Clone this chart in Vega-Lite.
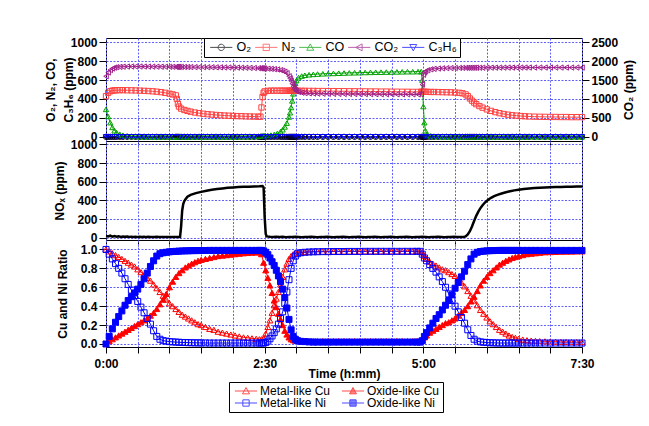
{
  "$schema": "https://vega.github.io/schema/vega-lite/v6.json",
  "background": "white",
  "padding": {"left": 43, "top": 35, "right": 5, "bottom": 5},
  "spacing": 0,
  "bounds": "flush",
  "config": {
    "view": {"stroke": "black", "strokeWidth": 1},
    "font": "Liberation Sans",
    "axis": {"labelFont": "Liberation Sans", "labelFontWeight": "bold", "labelFontSize": 12, "labelColor": "black", "titleFont": "Liberation Sans", "titleFontWeight": "bold", "titleFontSize": 12, "titleColor": "black", "tickColor": "black", "domain": false, "gridColor": "#6060ff", "gridDash": [2, 1.5], "gridWidth": 1, "tickSize": 7, "labelPadding": 2},
    "legend": {"labelFont": "Liberation Sans", "labelFontSize": 12, "labelColor": "black"}
  },
  "datasets": {
    "gas": [
      {"t":0,"O2":0,"N2":430,"CO":290,"C3H6":0,"CO2":1600},
      {"t":2,"O2":0,"N2":465,"CO":215,"C3H6":0,"CO2":1700},
      {"t":4,"O2":0,"N2":482,"CO":150,"C3H6":0,"CO2":1765},
      {"t":6,"O2":0,"N2":488,"CO":100,"C3H6":0,"CO2":1805},
      {"t":8,"O2":0,"N2":491,"CO":65,"C3H6":0,"CO2":1828},
      {"t":10,"O2":0,"N2":492,"CO":45,"C3H6":0,"CO2":1840},
      {"t":13,"O2":0,"N2":493,"CO":28,"C3H6":0,"CO2":1848},
      {"t":16,"O2":0,"N2":493,"CO":17,"C3H6":0,"CO2":1853},
      {"t":20,"O2":0,"N2":492,"CO":9,"C3H6":0,"CO2":1856},
      {"t":24,"O2":0,"N2":491,"CO":5,"C3H6":0,"CO2":1858},
      {"t":28,"O2":0,"N2":490,"CO":3,"C3H6":0,"CO2":1858},
      {"t":32,"O2":0,"N2":488,"CO":2,"C3H6":0,"CO2":1857},
      {"t":36,"O2":0,"N2":486,"CO":1,"C3H6":0,"CO2":1856},
      {"t":40,"O2":0,"N2":484,"CO":0,"C3H6":0,"CO2":1855},
      {"t":44,"O2":0,"N2":481,"CO":0,"C3H6":0,"CO2":1854},
      {"t":48,"O2":0,"N2":477,"CO":0,"C3H6":0,"CO2":1853},
      {"t":52,"O2":0,"N2":472,"CO":0,"C3H6":0,"CO2":1852},
      {"t":56,"O2":0,"N2":465,"CO":0,"C3H6":0,"CO2":1851},
      {"t":60,"O2":0,"N2":456,"CO":0,"C3H6":0,"CO2":1850},
      {"t":63,"O2":0,"N2":448,"CO":0,"C3H6":0,"CO2":1849},
      {"t":66,"O2":0,"N2":438,"CO":0,"C3H6":0,"CO2":1848},
      {"t":67,"O2":0,"N2":400,"CO":0,"C3H6":0,"CO2":1848},
      {"t":68,"O2":0,"N2":350,"CO":0,"C3H6":0,"CO2":1847},
      {"t":69,"O2":0,"N2":320,"CO":0,"C3H6":0,"CO2":1847},
      {"t":71,"O2":0,"N2":298,"CO":0,"C3H6":0,"CO2":1846},
      {"t":74,"O2":0,"N2":284,"CO":0,"C3H6":0,"CO2":1845},
      {"t":77,"O2":0,"N2":274,"CO":0,"C3H6":0,"CO2":1844},
      {"t":80,"O2":0,"N2":266,"CO":0,"C3H6":0,"CO2":1843},
      {"t":84,"O2":0,"N2":257,"CO":0,"C3H6":0,"CO2":1842},
      {"t":88,"O2":0,"N2":250,"CO":0,"C3H6":0,"CO2":1841},
      {"t":92,"O2":0,"N2":244,"CO":0,"C3H6":0,"CO2":1840},
      {"t":96,"O2":0,"N2":239,"CO":0,"C3H6":0,"CO2":1839},
      {"t":100,"O2":0,"N2":235,"CO":0,"C3H6":0,"CO2":1838},
      {"t":104,"O2":0,"N2":231,"CO":0,"C3H6":0,"CO2":1836},
      {"t":108,"O2":0,"N2":228,"CO":0,"C3H6":0,"CO2":1835},
      {"t":112,"O2":0,"N2":225,"CO":0,"C3H6":0,"CO2":1833},
      {"t":116,"O2":0,"N2":223,"CO":0,"C3H6":0,"CO2":1832},
      {"t":120,"O2":0,"N2":221,"CO":0,"C3H6":0,"CO2":1830},
      {"t":124,"O2":0,"N2":219,"CO":0,"C3H6":0,"CO2":1828},
      {"t":128,"O2":0,"N2":218,"CO":1,"C3H6":0,"CO2":1826},
      {"t":132,"O2":0,"N2":216,"CO":1,"C3H6":0,"CO2":1824},
      {"t":136,"O2":0,"N2":215,"CO":2,"C3H6":0,"CO2":1821},
      {"t":140,"O2":0,"N2":214,"CO":3,"C3H6":0,"CO2":1818},
      {"t":144,"O2":0,"N2":213,"CO":5,"C3H6":0,"CO2":1814},
      {"t":146,"O2":0,"N2":213,"CO":6,"C3H6":0,"CO2":1812},
      {"t":147,"O2":0,"N2":310,"CO":7,"C3H6":0,"CO2":1810},
      {"t":148,"O2":0,"N2":420,"CO":8,"C3H6":0,"CO2":1808},
      {"t":149,"O2":0,"N2":465,"CO":9,"C3H6":0,"CO2":1806},
      {"t":150,"O2":0,"N2":480,"CO":10,"C3H6":0,"CO2":1804},
      {"t":153,"O2":0,"N2":486,"CO":13,"C3H6":0,"CO2":1800},
      {"t":156,"O2":0,"N2":488,"CO":18,"C3H6":0,"CO2":1795},
      {"t":159,"O2":0,"N2":488,"CO":25,"C3H6":0,"CO2":1788},
      {"t":162,"O2":0,"N2":488,"CO":36,"C3H6":0,"CO2":1778},
      {"t":165,"O2":0,"N2":488,"CO":55,"C3H6":0,"CO2":1762},
      {"t":167,"O2":0,"N2":487,"CO":75,"C3H6":0,"CO2":1745},
      {"t":169,"O2":0,"N2":487,"CO":105,"C3H6":0,"CO2":1720},
      {"t":171,"O2":0,"N2":487,"CO":145,"C3H6":0,"CO2":1680},
      {"t":173,"O2":0,"N2":487,"CO":210,"C3H6":0,"CO2":1600},
      {"t":174,"O2":0,"N2":487,"CO":255,"C3H6":0,"CO2":1545},
      {"t":175,"O2":0,"N2":487,"CO":310,"C3H6":0,"CO2":1480},
      {"t":176,"O2":0,"N2":487,"CO":380,"C3H6":0,"CO2":1405},
      {"t":177,"O2":0,"N2":487,"CO":455,"C3H6":0,"CO2":1335},
      {"t":178,"O2":0,"N2":487,"CO":520,"C3H6":0,"CO2":1275},
      {"t":179,"O2":0,"N2":487,"CO":565,"C3H6":0,"CO2":1235},
      {"t":180,"O2":0,"N2":487,"CO":595,"C3H6":0,"CO2":1205},
      {"t":182,"O2":0,"N2":486,"CO":625,"C3H6":0,"CO2":1182},
      {"t":185,"O2":0,"N2":486,"CO":642,"C3H6":0,"CO2":1165},
      {"t":188,"O2":0,"N2":486,"CO":650,"C3H6":0,"CO2":1155},
      {"t":192,"O2":0,"N2":485,"CO":656,"C3H6":0,"CO2":1148},
      {"t":196,"O2":0,"N2":485,"CO":660,"C3H6":0,"CO2":1143},
      {"t":200,"O2":0,"N2":484,"CO":663,"C3H6":0,"CO2":1140},
      {"t":205,"O2":0,"N2":484,"CO":666,"C3H6":0,"CO2":1138},
      {"t":210,"O2":0,"N2":483,"CO":668,"C3H6":0,"CO2":1136},
      {"t":215,"O2":0,"N2":483,"CO":670,"C3H6":0,"CO2":1134},
      {"t":220,"O2":0,"N2":482,"CO":672,"C3H6":0,"CO2":1133},
      {"t":225,"O2":0,"N2":482,"CO":674,"C3H6":0,"CO2":1132},
      {"t":230,"O2":0,"N2":481,"CO":676,"C3H6":0,"CO2":1131},
      {"t":235,"O2":0,"N2":481,"CO":677,"C3H6":0,"CO2":1130},
      {"t":240,"O2":0,"N2":480,"CO":678,"C3H6":0,"CO2":1129},
      {"t":245,"O2":0,"N2":480,"CO":680,"C3H6":0,"CO2":1128},
      {"t":250,"O2":0,"N2":479,"CO":681,"C3H6":0,"CO2":1127},
      {"t":255,"O2":0,"N2":479,"CO":682,"C3H6":0,"CO2":1126},
      {"t":260,"O2":0,"N2":478,"CO":683,"C3H6":0,"CO2":1125},
      {"t":265,"O2":0,"N2":478,"CO":684,"C3H6":0,"CO2":1124},
      {"t":270,"O2":0,"N2":477,"CO":685,"C3H6":0,"CO2":1124},
      {"t":275,"O2":0,"N2":477,"CO":686,"C3H6":0,"CO2":1123},
      {"t":280,"O2":0,"N2":476,"CO":687,"C3H6":0,"CO2":1122},
      {"t":285,"O2":0,"N2":476,"CO":688,"C3H6":0,"CO2":1122},
      {"t":290,"O2":0,"N2":475,"CO":688,"C3H6":0,"CO2":1121},
      {"t":295,"O2":0,"N2":475,"CO":689,"C3H6":0,"CO2":1120},
      {"t":298,"O2":0,"N2":475,"CO":689,"C3H6":0,"CO2":1120},
      {"t":299,"O2":0,"N2":475,"CO":600,"C3H6":0,"CO2":1380},
      {"t":300,"O2":0,"N2":475,"CO":320,"C3H6":0,"CO2":1640},
      {"t":301,"O2":0,"N2":475,"CO":150,"C3H6":0,"CO2":1700},
      {"t":302,"O2":0,"N2":475,"CO":65,"C3H6":0,"CO2":1732},
      {"t":304,"O2":0,"N2":475,"CO":22,"C3H6":0,"CO2":1760},
      {"t":307,"O2":0,"N2":474,"CO":9,"C3H6":0,"CO2":1782},
      {"t":310,"O2":0,"N2":474,"CO":4,"C3H6":0,"CO2":1795},
      {"t":314,"O2":0,"N2":473,"CO":2,"C3H6":0,"CO2":1804},
      {"t":318,"O2":0,"N2":472,"CO":1,"C3H6":0,"CO2":1810},
      {"t":322,"O2":0,"N2":471,"CO":0,"C3H6":0,"CO2":1814},
      {"t":326,"O2":0,"N2":470,"CO":0,"C3H6":0,"CO2":1817},
      {"t":330,"O2":0,"N2":468,"CO":0,"C3H6":0,"CO2":1819},
      {"t":334,"O2":0,"N2":465,"CO":0,"C3H6":0,"CO2":1821},
      {"t":337,"O2":0,"N2":460,"CO":0,"C3H6":0,"CO2":1822},
      {"t":340,"O2":0,"N2":448,"CO":0,"C3H6":0,"CO2":1822},
      {"t":342,"O2":0,"N2":430,"CO":0,"C3H6":0,"CO2":1823},
      {"t":344,"O2":0,"N2":405,"CO":0,"C3H6":0,"CO2":1823},
      {"t":346,"O2":0,"N2":382,"CO":0,"C3H6":0,"CO2":1824},
      {"t":348,"O2":0,"N2":362,"CO":0,"C3H6":0,"CO2":1824},
      {"t":350,"O2":0,"N2":345,"CO":0,"C3H6":0,"CO2":1825},
      {"t":353,"O2":0,"N2":325,"CO":0,"C3H6":0,"CO2":1825},
      {"t":356,"O2":0,"N2":308,"CO":0,"C3H6":0,"CO2":1826},
      {"t":360,"O2":0,"N2":290,"CO":0,"C3H6":0,"CO2":1826},
      {"t":364,"O2":0,"N2":274,"CO":0,"C3H6":0,"CO2":1827},
      {"t":368,"O2":0,"N2":261,"CO":0,"C3H6":0,"CO2":1827},
      {"t":372,"O2":0,"N2":250,"CO":0,"C3H6":0,"CO2":1828},
      {"t":376,"O2":0,"N2":241,"CO":0,"C3H6":0,"CO2":1828},
      {"t":380,"O2":0,"N2":234,"CO":0,"C3H6":0,"CO2":1829},
      {"t":384,"O2":0,"N2":228,"CO":0,"C3H6":0,"CO2":1829},
      {"t":388,"O2":0,"N2":224,"CO":0,"C3H6":0,"CO2":1830},
      {"t":392,"O2":0,"N2":220,"CO":0,"C3H6":0,"CO2":1830},
      {"t":396,"O2":0,"N2":217,"CO":0,"C3H6":0,"CO2":1830},
      {"t":400,"O2":0,"N2":215,"CO":0,"C3H6":0,"CO2":1830},
      {"t":405,"O2":0,"N2":213,"CO":0,"C3H6":0,"CO2":1830},
      {"t":410,"O2":0,"N2":212,"CO":0,"C3H6":0,"CO2":1830},
      {"t":415,"O2":0,"N2":211,"CO":0,"C3H6":0,"CO2":1830},
      {"t":420,"O2":0,"N2":210,"CO":0,"C3H6":0,"CO2":1830},
      {"t":425,"O2":0,"N2":210,"CO":0,"C3H6":0,"CO2":1830},
      {"t":430,"O2":0,"N2":209,"CO":0,"C3H6":0,"CO2":1830},
      {"t":435,"O2":0,"N2":209,"CO":0,"C3H6":0,"CO2":1830},
      {"t":440,"O2":0,"N2":208,"CO":0,"C3H6":0,"CO2":1830},
      {"t":445,"O2":0,"N2":208,"CO":0,"C3H6":0,"CO2":1830},
      {"t":450,"O2":0,"N2":208,"CO":0,"C3H6":0,"CO2":1830}
    ],
    "nox": [
      {"t":0,"n":18},{"t":2,"n":14},{"t":4,"n":22},{"t":6,"n":12},{"t":8,"n":19},{"t":10,"n":11},{"t":12,"n":16},{"t":14,"n":9},{"t":16,"n":14},{"t":18,"n":10},
      {"t":20,"n":13},{"t":22,"n":8},{"t":24,"n":12},{"t":26,"n":9},{"t":28,"n":11},{"t":30,"n":7},{"t":32,"n":10},{"t":34,"n":8},{"t":36,"n":11},{"t":38,"n":7},
      {"t":40,"n":10},{"t":42,"n":8},{"t":44,"n":9},{"t":46,"n":7},{"t":48,"n":10},{"t":50,"n":8},{"t":52,"n":9},{"t":54,"n":7},{"t":56,"n":9},{"t":58,"n":8},
      {"t":60,"n":9},{"t":62,"n":7},{"t":64,"n":9},{"t":66,"n":8},{"t":68,"n":9},{"t":70,"n":9},{"t":71,"n":120},{"t":72,"n":290},{"t":73,"n":360},{"t":74,"n":392},
      {"t":75,"n":410},{"t":77,"n":440},{"t":80,"n":460},{"t":85,"n":478},{"t":90,"n":492},{"t":95,"n":504},{"t":100,"n":514},{"t":105,"n":522},{"t":110,"n":529},{"t":115,"n":535},
      {"t":120,"n":539},{"t":125,"n":543},{"t":130,"n":546},{"t":135,"n":548},{"t":140,"n":550},{"t":145,"n":552},{"t":148,"n":554},{"t":149,"n":540},{"t":150,"n":220},{"t":151,"n":40},
      {"t":152,"n":14},{"t":155,"n":10},{"t":158,"n":7},{"t":161,"n":11},{"t":164,"n":8},{"t":167,"n":10},{"t":170,"n":6},{"t":173,"n":9},{"t":176,"n":7},{"t":179,"n":10},
      {"t":182,"n":8},{"t":185,"n":6},{"t":188,"n":9},{"t":191,"n":7},{"t":194,"n":10},{"t":197,"n":8},{"t":200,"n":6},{"t":203,"n":9},{"t":206,"n":7},{"t":209,"n":10},
      {"t":212,"n":8},{"t":215,"n":6},{"t":218,"n":9},{"t":221,"n":7},{"t":224,"n":10},{"t":227,"n":8},{"t":230,"n":6},{"t":233,"n":9},{"t":236,"n":7},{"t":239,"n":10},
      {"t":242,"n":8},{"t":245,"n":6},{"t":248,"n":9},{"t":251,"n":7},{"t":254,"n":10},{"t":257,"n":8},{"t":260,"n":6},{"t":263,"n":9},{"t":266,"n":7},{"t":269,"n":10},
      {"t":272,"n":8},{"t":275,"n":6},{"t":278,"n":9},{"t":281,"n":7},{"t":284,"n":10},{"t":287,"n":8},{"t":290,"n":6},{"t":293,"n":9},{"t":296,"n":7},{"t":299,"n":10},
      {"t":302,"n":8},{"t":305,"n":6},{"t":308,"n":9},{"t":311,"n":7},{"t":314,"n":10},{"t":317,"n":8},{"t":320,"n":6},{"t":323,"n":9},{"t":326,"n":7},{"t":329,"n":10},
      {"t":332,"n":8},{"t":335,"n":7},{"t":338,"n":9},{"t":340,"n":14},{"t":342,"n":35},{"t":344,"n":70},{"t":346,"n":120},{"t":348,"n":180},{"t":350,"n":235},{"t":352,"n":280},
      {"t":354,"n":318},{"t":356,"n":348},{"t":358,"n":375},{"t":361,"n":405},{"t":364,"n":428},{"t":367,"n":446},{"t":370,"n":460},{"t":374,"n":475},{"t":378,"n":488},{"t":382,"n":499},
      {"t":386,"n":508},{"t":390,"n":515},{"t":395,"n":522},{"t":400,"n":528},{"t":405,"n":532},{"t":410,"n":536},{"t":415,"n":539},{"t":420,"n":541},{"t":425,"n":543},{"t":430,"n":545},
      {"t":435,"n":547},{"t":440,"n":548},{"t":445,"n":549},{"t":450,"n":550}
    ],
    "ratio": [
      {"t":0,"mc":1.0,"oc":0.0,"mn":1.0,"on":0.0},
      {"t":3,"mc":0.98,"oc":0.03,"mn":0.95,"on":0.08},
      {"t":6,"mc":0.96,"oc":0.05,"mn":0.9,"on":0.16},
      {"t":9,"mc":0.94,"oc":0.07,"mn":0.85,"on":0.23},
      {"t":12,"mc":0.92,"oc":0.09,"mn":0.8,"on":0.29},
      {"t":15,"mc":0.9,"oc":0.11,"mn":0.75,"on":0.35},
      {"t":18,"mc":0.88,"oc":0.13,"mn":0.69,"on":0.41},
      {"t":21,"mc":0.86,"oc":0.15,"mn":0.63,"on":0.46},
      {"t":24,"mc":0.84,"oc":0.17,"mn":0.57,"on":0.5},
      {"t":27,"mc":0.82,"oc":0.19,"mn":0.51,"on":0.54},
      {"t":30,"mc":0.79,"oc":0.21,"mn":0.45,"on":0.58},
      {"t":33,"mc":0.76,"oc":0.23,"mn":0.39,"on":0.63},
      {"t":36,"mc":0.73,"oc":0.25,"mn":0.33,"on":0.69},
      {"t":39,"mc":0.7,"oc":0.27,"mn":0.27,"on":0.75},
      {"t":42,"mc":0.67,"oc":0.3,"mn":0.21,"on":0.82},
      {"t":45,"mc":0.63,"oc":0.33,"mn":0.14,"on":0.88},
      {"t":48,"mc":0.59,"oc":0.37,"mn":0.08,"on":0.93},
      {"t":51,"mc":0.55,"oc":0.42,"mn":0.05,"on":0.955},
      {"t":54,"mc":0.51,"oc":0.47,"mn":0.035,"on":0.965},
      {"t":57,"mc":0.47,"oc":0.53,"mn":0.03,"on":0.97},
      {"t":60,"mc":0.43,"oc":0.6,"mn":0.025,"on":0.975},
      {"t":63,"mc":0.4,"oc":0.66,"mn":0.022,"on":0.978},
      {"t":66,"mc":0.37,"oc":0.71,"mn":0.02,"on":0.98},
      {"t":69,"mc":0.34,"oc":0.75,"mn":0.018,"on":0.982},
      {"t":72,"mc":0.31,"oc":0.78,"mn":0.016,"on":0.984},
      {"t":75,"mc":0.29,"oc":0.81,"mn":0.015,"on":0.985},
      {"t":78,"mc":0.27,"oc":0.83,"mn":0.014,"on":0.986},
      {"t":81,"mc":0.25,"oc":0.85,"mn":0.013,"on":0.987},
      {"t":84,"mc":0.23,"oc":0.865,"mn":0.012,"on":0.988},
      {"t":87,"mc":0.21,"oc":0.88,"mn":0.012,"on":0.988},
      {"t":90,"mc":0.2,"oc":0.89,"mn":0.011,"on":0.989},
      {"t":94,"mc":0.18,"oc":0.9,"mn":0.011,"on":0.989},
      {"t":98,"mc":0.16,"oc":0.91,"mn":0.01,"on":0.99},
      {"t":102,"mc":0.15,"oc":0.92,"mn":0.01,"on":0.99},
      {"t":106,"mc":0.13,"oc":0.93,"mn":0.01,"on":0.99},
      {"t":110,"mc":0.12,"oc":0.935,"mn":0.01,"on":0.99},
      {"t":114,"mc":0.11,"oc":0.94,"mn":0.01,"on":0.99},
      {"t":118,"mc":0.1,"oc":0.945,"mn":0.01,"on":0.99},
      {"t":122,"mc":0.09,"oc":0.95,"mn":0.01,"on":0.99},
      {"t":126,"mc":0.08,"oc":0.955,"mn":0.01,"on":0.99},
      {"t":130,"mc":0.07,"oc":0.96,"mn":0.01,"on":0.99},
      {"t":134,"mc":0.065,"oc":0.963,"mn":0.01,"on":0.99},
      {"t":138,"mc":0.06,"oc":0.966,"mn":0.01,"on":0.99},
      {"t":142,"mc":0.055,"oc":0.968,"mn":0.01,"on":0.99},
      {"t":145,"mc":0.05,"oc":0.97,"mn":0.01,"on":0.99},
      {"t":147,"mc":0.05,"oc":0.95,"mn":0.01,"on":0.99},
      {"t":149,"mc":0.06,"oc":0.86,"mn":0.01,"on":0.985},
      {"t":151,"mc":0.11,"oc":0.78,"mn":0.015,"on":0.97},
      {"t":153,"mc":0.18,"oc":0.7,"mn":0.03,"on":0.945},
      {"t":155,"mc":0.25,"oc":0.62,"mn":0.055,"on":0.91},
      {"t":157,"mc":0.33,"oc":0.54,"mn":0.085,"on":0.87},
      {"t":159,"mc":0.41,"oc":0.46,"mn":0.12,"on":0.83},
      {"t":161,"mc":0.48,"oc":0.39,"mn":0.16,"on":0.78},
      {"t":163,"mc":0.55,"oc":0.32,"mn":0.21,"on":0.72},
      {"t":165,"mc":0.63,"oc":0.26,"mn":0.27,"on":0.66},
      {"t":167,"mc":0.71,"oc":0.2,"mn":0.34,"on":0.58},
      {"t":169,"mc":0.79,"oc":0.14,"mn":0.43,"on":0.49},
      {"t":171,"mc":0.85,"oc":0.1,"mn":0.55,"on":0.38},
      {"t":173,"mc":0.9,"oc":0.07,"mn":0.68,"on":0.26},
      {"t":175,"mc":0.93,"oc":0.05,"mn":0.8,"on":0.15},
      {"t":177,"mc":0.95,"oc":0.04,"mn":0.88,"on":0.08},
      {"t":179,"mc":0.96,"oc":0.035,"mn":0.93,"on":0.05},
      {"t":181,"mc":0.965,"oc":0.032,"mn":0.955,"on":0.035},
      {"t":184,"mc":0.97,"oc":0.03,"mn":0.965,"on":0.028},
      {"t":188,"mc":0.973,"oc":0.03,"mn":0.97,"on":0.025},
      {"t":192,"mc":0.975,"oc":0.03,"mn":0.973,"on":0.022},
      {"t":196,"mc":0.976,"oc":0.03,"mn":0.975,"on":0.02},
      {"t":200,"mc":0.977,"oc":0.03,"mn":0.976,"on":0.02},
      {"t":205,"mc":0.977,"oc":0.03,"mn":0.977,"on":0.02},
      {"t":210,"mc":0.978,"oc":0.03,"mn":0.977,"on":0.02},
      {"t":215,"mc":0.978,"oc":0.03,"mn":0.978,"on":0.02},
      {"t":220,"mc":0.978,"oc":0.03,"mn":0.978,"on":0.02},
      {"t":225,"mc":0.979,"oc":0.03,"mn":0.978,"on":0.02},
      {"t":230,"mc":0.979,"oc":0.03,"mn":0.979,"on":0.02},
      {"t":235,"mc":0.979,"oc":0.03,"mn":0.979,"on":0.02},
      {"t":240,"mc":0.98,"oc":0.03,"mn":0.979,"on":0.02},
      {"t":245,"mc":0.98,"oc":0.03,"mn":0.98,"on":0.02},
      {"t":250,"mc":0.98,"oc":0.03,"mn":0.98,"on":0.02},
      {"t":255,"mc":0.98,"oc":0.03,"mn":0.98,"on":0.02},
      {"t":260,"mc":0.98,"oc":0.03,"mn":0.98,"on":0.02},
      {"t":265,"mc":0.98,"oc":0.03,"mn":0.98,"on":0.02},
      {"t":270,"mc":0.98,"oc":0.03,"mn":0.98,"on":0.02},
      {"t":275,"mc":0.98,"oc":0.03,"mn":0.98,"on":0.02},
      {"t":280,"mc":0.98,"oc":0.03,"mn":0.98,"on":0.02},
      {"t":285,"mc":0.98,"oc":0.03,"mn":0.98,"on":0.02},
      {"t":290,"mc":0.98,"oc":0.03,"mn":0.98,"on":0.02},
      {"t":294,"mc":0.98,"oc":0.03,"mn":0.98,"on":0.02},
      {"t":297,"mc":0.98,"oc":0.03,"mn":0.98,"on":0.02},
      {"t":299,"mc":0.97,"oc":0.04,"mn":0.95,"on":0.035},
      {"t":301,"mc":0.93,"oc":0.07,"mn":0.91,"on":0.08},
      {"t":303,"mc":0.9,"oc":0.09,"mn":0.88,"on":0.12},
      {"t":306,"mc":0.87,"oc":0.12,"mn":0.84,"on":0.17},
      {"t":309,"mc":0.85,"oc":0.14,"mn":0.8,"on":0.22},
      {"t":312,"mc":0.83,"oc":0.16,"mn":0.76,"on":0.27},
      {"t":315,"mc":0.81,"oc":0.18,"mn":0.71,"on":0.31},
      {"t":318,"mc":0.79,"oc":0.2,"mn":0.66,"on":0.36},
      {"t":321,"mc":0.78,"oc":0.22,"mn":0.6,"on":0.41},
      {"t":324,"mc":0.76,"oc":0.23,"mn":0.53,"on":0.46},
      {"t":327,"mc":0.74,"oc":0.25,"mn":0.46,"on":0.52},
      {"t":330,"mc":0.72,"oc":0.27,"mn":0.4,"on":0.59},
      {"t":333,"mc":0.69,"oc":0.3,"mn":0.34,"on":0.65},
      {"t":336,"mc":0.65,"oc":0.33,"mn":0.28,"on":0.71},
      {"t":339,"mc":0.61,"oc":0.36,"mn":0.22,"on":0.77},
      {"t":342,"mc":0.56,"oc":0.4,"mn":0.15,"on":0.84},
      {"t":345,"mc":0.51,"oc":0.45,"mn":0.09,"on":0.9},
      {"t":348,"mc":0.46,"oc":0.5,"mn":0.05,"on":0.95},
      {"t":351,"mc":0.41,"oc":0.56,"mn":0.03,"on":0.97},
      {"t":354,"mc":0.36,"oc":0.62,"mn":0.022,"on":0.978},
      {"t":357,"mc":0.32,"oc":0.67,"mn":0.018,"on":0.982},
      {"t":360,"mc":0.28,"oc":0.71,"mn":0.015,"on":0.985},
      {"t":363,"mc":0.24,"oc":0.75,"mn":0.013,"on":0.987},
      {"t":366,"mc":0.21,"oc":0.78,"mn":0.012,"on":0.988},
      {"t":369,"mc":0.18,"oc":0.81,"mn":0.011,"on":0.989},
      {"t":372,"mc":0.15,"oc":0.84,"mn":0.01,"on":0.99},
      {"t":375,"mc":0.13,"oc":0.86,"mn":0.01,"on":0.99},
      {"t":378,"mc":0.11,"oc":0.88,"mn":0.01,"on":0.99},
      {"t":381,"mc":0.09,"oc":0.895,"mn":0.01,"on":0.99},
      {"t":384,"mc":0.075,"oc":0.91,"mn":0.01,"on":0.99},
      {"t":387,"mc":0.065,"oc":0.92,"mn":0.01,"on":0.99},
      {"t":390,"mc":0.055,"oc":0.93,"mn":0.01,"on":0.99},
      {"t":394,"mc":0.047,"oc":0.94,"mn":0.01,"on":0.99},
      {"t":398,"mc":0.04,"oc":0.95,"mn":0.01,"on":0.99},
      {"t":402,"mc":0.036,"oc":0.955,"mn":0.01,"on":0.99},
      {"t":406,"mc":0.033,"oc":0.96,"mn":0.01,"on":0.99},
      {"t":410,"mc":0.03,"oc":0.965,"mn":0.01,"on":0.99},
      {"t":415,"mc":0.028,"oc":0.97,"mn":0.01,"on":0.99},
      {"t":420,"mc":0.026,"oc":0.972,"mn":0.01,"on":0.99},
      {"t":425,"mc":0.024,"oc":0.974,"mn":0.01,"on":0.99},
      {"t":430,"mc":0.022,"oc":0.976,"mn":0.01,"on":0.99},
      {"t":435,"mc":0.021,"oc":0.977,"mn":0.01,"on":0.99},
      {"t":440,"mc":0.02,"oc":0.978,"mn":0.01,"on":0.99},
      {"t":445,"mc":0.02,"oc":0.979,"mn":0.01,"on":0.99},
      {"t":450,"mc":0.02,"oc":0.98,"mn":0.01,"on":0.99}
    ]
  },
  "vconcat": [
    {
      "width": 476,
      "height": 103,
      "data": {"name": "gas"},
      "layer": [
        {
          "transform": [{"fold": ["O2", "N2", "CO", "C3H6"], "as": ["s", "v"]}],
          "encoding": {
            "x": {"field": "t", "type": "quantitative", "scale": {"domain": [0, 450], "nice": false, "zero": false}, "axis": {"values": [0,30,60,90,120,150,180,210,240,270,300,330,360,390,420,450], "labels": false, "title": null, "tickSize": 6, "grid": true}},
            "y": {"field": "v", "type": "quantitative", "scale": {"domain": [-44, 1044], "nice": false, "zero": false}, "axis": {"values": [0,200,400,600,800,1000], "format": "d", "title": ["O₂, N₂, CO,", "C₃H₆ (ppm)"], "titleX": -56, "titleLineHeight": 18, "titleBaseline": "middle", "titleAngle": 270, "grid": true}}
          },
          "layer": [
            {"mark": {"type": "line", "strokeWidth": 1}, "encoding": {"color": {"field": "s", "type": "nominal", "scale": {"domain": ["O2", "N2", "CO", "C3H6"], "range": ["#000000", "#ff4040", "#00a000", "#0000ff"]}, "legend": null}}},
            {"mark": {"type": "point", "filled": false, "size": 28, "strokeWidth": 1, "opacity": 1}, "encoding": {"color": {"field": "s", "type": "nominal", "scale": {"domain": ["O2", "N2", "CO", "C3H6"], "range": ["#000000", "#ff4040", "#00a000", "#0000ff"]}, "legend": null}, "shape": {"field": "s", "type": "nominal", "scale": {"domain": ["O2", "N2", "CO", "C3H6"], "range": ["circle", "square", "triangle-up", "triangle-down"]}, "legend": null}}}
          ]
        },
        {
          "encoding": {
            "x": {"field": "t", "type": "quantitative", "scale": {"domain": [0, 450], "nice": false, "zero": false}, "axis": {"values": [0,30,60,90,120,150,180,210,240,270,300,330,360,390,420,450], "labels": false, "title": null, "tickSize": 6, "grid": true}},
            "y": {"field": "CO2", "type": "quantitative", "scale": {"domain": [-111, 2611], "nice": false, "zero": false}, "axis": {"orient": "right", "values": [0,500,1000,1500,2000,2500], "format": "d", "title": "CO₂ (ppm)", "titleX": 46, "titleBaseline": "middle", "titleAngle": 270, "grid": false}}
          },
          "layer": [
            {"mark": {"type": "line", "strokeWidth": 1, "color": "#a0208c"}},
            {"mark": {"type": "point", "filled": false, "size": 28, "strokeWidth": 1, "color": "#a0208c", "shape": "triangle-left", "opacity": 1}}
          ]
        },
        {
          "transform": [{"filter": "datum.t < 0"}],
          "mark": {"type": "point", "filled": false, "strokeWidth": 1},
          "encoding": {
            "shape": {"field": "lg", "type": "nominal", "scale": {"domain": ["O₂", "N₂", "CO", "CO₂", "C₃H₆"], "range": ["M-3.5,0H3.5M1,0A1,1,0,1,1,-1,0A1,1,0,1,1,1,0", "M-3.5,0H3.5M-1,-1H1V1H-1Z", "M-3.5,0H3.5M0,-1.1L1.1,0.9H-1.1Z", "M-3.5,0H3.5M-1.1,0L0.9,-1.1V1.1Z", "M-3.5,0H3.5M-1.1,-0.9H1.1L0,1.1Z"]}, "legend": {"title": null, "orient": "none", "legendX": 98, "legendY": 0, "direction": "horizontal", "columns": 5, "symbolSize": 40, "labelFontSize": 12.5, "labelOffset": 9, "symbolOffset": 8, "padding": 3, "columnPadding": 0, "strokeColor": "black", "fillColor": "white", "symbolStrokeWidth": 1}},
            "stroke": {"field": "lg", "type": "nominal", "scale": {"domain": ["O₂", "N₂", "CO", "CO₂", "C₃H₆"], "range": ["#000000", "#ff4040", "#00a000", "#a0208c", "#0000ff"]}, "legend": {"title": null, "orient": "none", "legendX": 98, "legendY": 0, "direction": "horizontal", "columns": 5, "symbolSize": 40, "labelFontSize": 12.5, "labelOffset": 9, "symbolOffset": 8, "padding": 3, "columnPadding": 0, "strokeColor": "black", "fillColor": "white", "symbolStrokeWidth": 1}}
          }
        }
      ],
      "resolve": {"scale": {"y": "independent", "shape": "independent", "color": "independent", "stroke": "independent"}}
    },
    {
      "width": 476,
      "height": 99,
      "data": {"name": "nox"},
      "mark": {"type": "line", "color": "black", "strokeWidth": 2.5},
      "encoding": {
        "x": {"field": "t", "type": "quantitative", "scale": {"domain": [0, 450], "nice": false, "zero": false}, "axis": {"values": [0,30,60,90,120,150,180,210,240,270,300,330,360,390,420,450], "labels": false, "title": null, "tickSize": 6, "grid": true}},
        "y": {"field": "n", "type": "quantitative", "scale": {"domain": [-24, 1037], "nice": false, "zero": false}, "axis": {"values": [0,200,400,600,800,1000], "format": "d", "title": "NOₓ (ppm)", "titleX": -46.5, "titleBaseline": "middle", "titleAngle": 270, "grid": true}}
      }
    },
    {
      "width": 476,
      "height": 107,
      "data": {"name": "ratio"},
      "layer": [
        {
          "encoding": {
            "x": {"field": "t", "type": "quantitative", "scale": {"domain": [0, 450], "nice": false, "zero": false}, "axis": {"values": [0,30,60,90,120,150,180,210,240,270,300,330,360,390,420,450], "labelExpr": "datum.value % 150 == 0 ? floor(datum.value / 60) + ':' + (datum.value % 60 == 0 ? '00' : '30') : ''", "labelFlush": false, "labelPadding": 5, "tickSize": 6, "grid": true, "title": "Time (h:mm)", "titleY": 30, "titleBaseline": "alphabetic"}},
            "y": {"field": "v", "type": "quantitative", "scale": {"domain": [-0.032, 1.1], "nice": false, "zero": false}, "axis": {"values": [0,0.2,0.4,0.6,0.8,1.0], "format": ".1f", "title": "Cu and Ni Ratio", "titleX": -43.3, "titleBaseline": "middle", "titleAngle": 270, "grid": true}}
          },
          "layer": [
            {"transform": [{"fold": ["mc", "oc", "mn", "on"], "as": ["s", "v"]}], "mark": {"type": "line", "strokeWidth": 1}, "encoding": {"stroke": {"field": "s", "type": "nominal", "scale": {"domain": ["mc", "oc", "mn", "on"], "range": ["#ff0000", "#ff0000", "#0000ff", "#0000ff"]}, "legend": null}}},
            {"transform": [{"fold": ["mc", "oc"], "as": ["s", "v"]}], "mark": {"type": "point", "size": 36, "strokeWidth": 1, "opacity": 1}, "encoding": {"stroke": {"field": "s", "type": "nominal", "scale": {"domain": ["mc", "oc", "mn", "on"], "range": ["#ff0000", "#ff0000", "#0000ff", "#0000ff"]}, "legend": null}, "fill": {"field": "s", "type": "nominal", "scale": {"domain": ["mc", "oc", "mn", "on"], "range": ["transparent", "#ff0000", "transparent", "#0000ff"]}, "legend": null}, "shape": {"field": "s", "type": "nominal", "scale": {"domain": ["mc", "oc", "mn", "on"], "range": ["triangle-up", "triangle-up", "square", "square"]}, "legend": null}}},
            {"transform": [{"fold": ["mn", "on"], "as": ["s", "v"]}], "mark": {"type": "point", "size": 36, "strokeWidth": 1, "opacity": 1}, "encoding": {"stroke": {"field": "s", "type": "nominal", "scale": {"domain": ["mc", "oc", "mn", "on"], "range": ["#ff0000", "#ff0000", "#0000ff", "#0000ff"]}, "legend": null}, "fill": {"field": "s", "type": "nominal", "scale": {"domain": ["mc", "oc", "mn", "on"], "range": ["transparent", "#ff0000", "transparent", "#0000ff"]}, "legend": null}, "shape": {"field": "s", "type": "nominal", "scale": {"domain": ["mc", "oc", "mn", "on"], "range": ["triangle-up", "triangle-up", "square", "square"]}, "legend": null}}}
          ]
        },
        {
          "transform": [{"filter": "datum.t < 0"}],
          "mark": {"type": "point", "strokeWidth": 1},
          "encoding": {
            "shape": {"field": "lg", "type": "nominal", "scale": {"domain": ["Metal-like Cu", "Oxide-like Cu", "Metal-like Ni", "Oxide-like Ni"], "range": ["M-3.5,0H3.5M0,-1.1L1.1,0.9H-1.1Z", "M-3.5,0H3.5M0,-1.1L1.1,0.9H-1.1Z", "M-3.5,0H3.5M-1,-1H1V1H-1Z", "M-3.5,0H3.5M-1,-1H1V1H-1Z"]}, "legend": {"title": null, "orient": "none", "legendX": 123, "legendY": 142, "direction": "horizontal", "columns": 2, "symbolSize": 40, "labelFontSize": 12, "labelOffset": 8, "symbolOffset": 8, "padding": 3, "rowPadding": 0, "columnPadding": 8, "strokeColor": "black", "fillColor": "white", "symbolStrokeWidth": 1}},
            "stroke": {"field": "lg", "type": "nominal", "scale": {"domain": ["Metal-like Cu", "Oxide-like Cu", "Metal-like Ni", "Oxide-like Ni"], "range": ["#ff0000", "#ff0000", "#0000ff", "#0000ff"]}, "legend": {"title": null, "orient": "none", "legendX": 123, "legendY": 142, "direction": "horizontal", "columns": 2, "symbolSize": 40, "labelFontSize": 12, "labelOffset": 8, "symbolOffset": 8, "padding": 3, "rowPadding": 0, "columnPadding": 8, "strokeColor": "black", "fillColor": "white", "symbolStrokeWidth": 1}},
            "fill": {"field": "lg", "type": "nominal", "scale": {"domain": ["Metal-like Cu", "Oxide-like Cu", "Metal-like Ni", "Oxide-like Ni"], "range": ["transparent", "#ff0000", "transparent", "#0000ff"]}, "legend": {"title": null, "orient": "none", "legendX": 123, "legendY": 142, "direction": "horizontal", "columns": 2, "symbolSize": 40, "labelFontSize": 12, "labelOffset": 8, "symbolOffset": 8, "padding": 3, "rowPadding": 0, "columnPadding": 8, "strokeColor": "black", "fillColor": "white", "symbolStrokeWidth": 1}}
          }
        }
      ],
      "resolve": {"scale": {"shape": "independent", "stroke": "independent", "fill": "independent"}}
    }
  ]
}
